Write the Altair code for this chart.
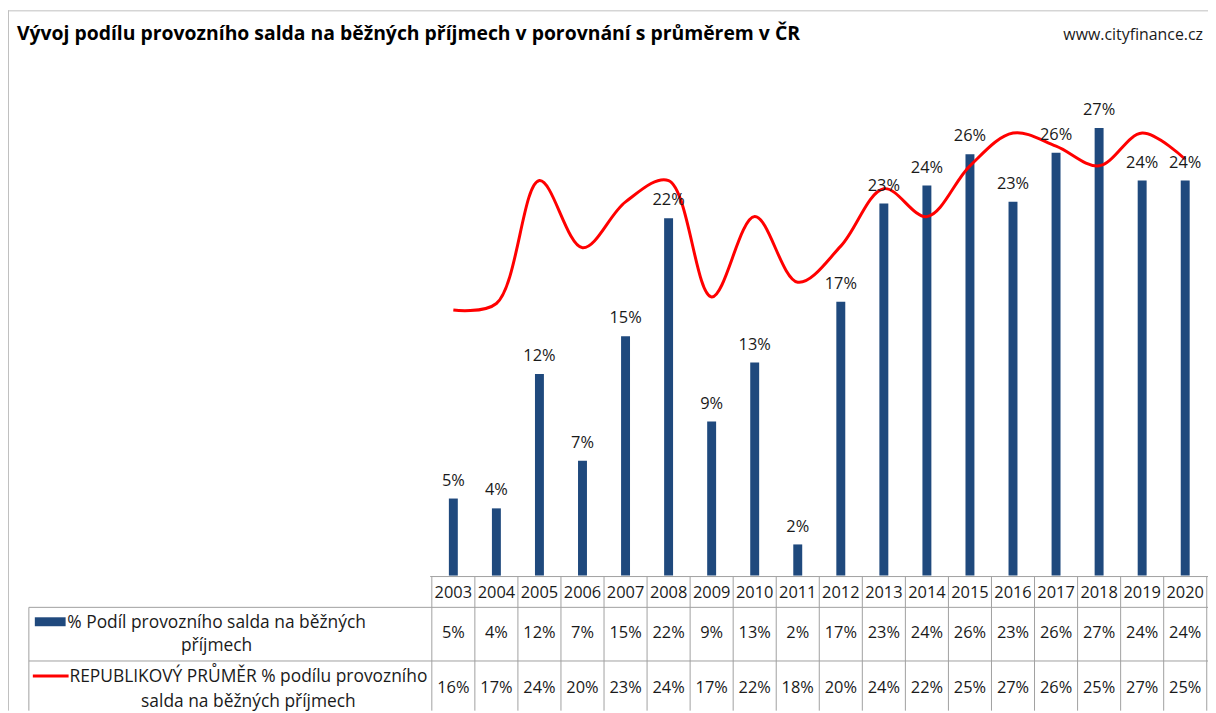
import altair as alt
import pandas as pd

title_text = "Vývoj podílu provozního salda na běžných příjmech v porovnání s průměrem v ČR"
source_text = "www.cityfinance.cz"
series_bar = "% Podíl provozního salda na běžných\npříjmech"
series_line = "REPUBLIKOVÝ PRŮMĚR % podílu provozního\nsalda na běžných příjmech"

years = list(range(2003, 2021))
podil = [0.047, 0.041, 0.123, 0.070, 0.146, 0.218, 0.094, 0.130, 0.019,
         0.167, 0.227, 0.238, 0.257, 0.228, 0.258, 0.273, 0.241, 0.241]
prumer = [0.162, 0.166, 0.241, 0.200, 0.228, 0.241, 0.170, 0.219, 0.179,
          0.201, 0.236, 0.219, 0.250, 0.270, 0.262, 0.250, 0.270, 0.254]

df = pd.DataFrame({"year": years, "podil": podil, "prumer": prumer})

W, H = 1208, 705
FONT = "Open Sans"
GRID = "#A0A0A0"
BLUE = "#1F497D"
RED = "#FF0000"
TXT = "#1A1A1A"

xs = alt.Scale(domain=[1992.771, 2020.414], nice=False, zero=False)
ys = alt.Scale(domain=[-0.08242, 0.34485], nice=False, zero=False)
X = alt.X("year:Q", scale=xs, axis=None)

base = alt.Chart(df)

bars = base.mark_bar(size=9, color=BLUE).encode(
    x=X, y=alt.Y("podil:Q", scale=ys, axis=None), y2=alt.datum(0)
)
bar_labels = base.mark_text(font=FONT, fontSize=16.5, color=TXT, dy=-18, baseline="middle").encode(
    x=X, y=alt.Y("podil:Q", scale=ys, axis=None), text=alt.Text("podil:Q", format=".0%")
)
line = base.mark_line(color=RED, strokeWidth=3, interpolate="catmull-rom").encode(
    x=X, y=alt.Y("prumer:Q", scale=ys, axis=None)
)

# table: header years and values
hdr = base.mark_text(font=FONT, fontSize=16.5, color=TXT, baseline="middle").encode(
    x=X, y=alt.value(587), text="year:N"
)
row1 = base.mark_text(font=FONT, fontSize=16.5, color=TXT, baseline="middle").encode(
    x=X, y=alt.value(627), text=alt.Text("podil:Q", format=".0%")
)
row2 = base.mark_text(font=FONT, fontSize=16.5, color=TXT, baseline="middle").encode(
    x=X, y=alt.value(682), text=alt.Text("prumer:Q", format=".0%")
)

# column separators (left border of each year column, plus right border of last)
vsep = base.transform_calculate(edge="datum.year - 0.5").mark_rule(color=GRID, strokeWidth=1).encode(
    x=alt.X("edge:Q", scale=xs, axis=None), y=alt.value(570), y2=alt.value(H)
)
vsep_last = base.transform_filter("datum.year == 2020").transform_calculate(edge="datum.year + 0.5").mark_rule(
    color=GRID, strokeWidth=1).encode(
    x=alt.X("edge:Q", scale=xs, axis=None), y=alt.value(570), y2=alt.value(H)
)

one = alt.Chart(pd.DataFrame({"k": [0]}))
h0 = one.mark_rule(color=GRID, strokeWidth=1).encode(x=alt.value(425), x2=alt.value(W), y=alt.value(570))
h1 = one.mark_rule(color=GRID, strokeWidth=1).encode(x=alt.value(21), x2=alt.value(W), y=alt.value(601))
h2 = one.mark_rule(color=GRID, strokeWidth=1).encode(x=alt.value(21), x2=alt.value(W), y=alt.value(655))
vleft = one.mark_rule(color=GRID, strokeWidth=1).encode(x=alt.value(21), y=alt.value(601), y2=alt.value(H))
frame_l = one.mark_rule(color="#BFBFBF", strokeWidth=1).encode(x=alt.value(0.5), y=alt.value(0), y2=alt.value(H))
frame_t = one.mark_rule(color="#BFBFBF", strokeWidth=1).encode(x=alt.value(0), x2=alt.value(W), y=alt.value(0.5))

sw_bar = one.mark_rect(color=BLUE).encode(
    x=alt.value(27), x2=alt.value(58), y=alt.value(611), y2=alt.value(620)
)
sw_line = one.mark_rule(color=RED, strokeWidth=3).encode(
    x=alt.value(25), x2=alt.value(61), y=alt.value(670)
)

leg_df = pd.DataFrame({"s1": [series_bar], "s2": [series_line], "t": [title_text], "u": [source_text]})
leg = alt.Chart(leg_df)
leg1 = leg.mark_text(font=FONT, fontSize=17.5, color=TXT, align="center", baseline="middle",
                     lineBreak="\n", lineHeight=23).encode(
    x=alt.value(210), y=alt.value(617), text="s1:N")
leg2 = leg.mark_text(font=FONT, fontSize=17.5, color=TXT, align="center", baseline="middle",
                     lineBreak="\n", lineHeight=25).encode(
    x=alt.value(242), y=alt.value(671), text="s2:N")

title = leg.mark_text(font=FONT, fontSize=19.5, fontWeight="bold", color="#000000", align="left",
                      baseline="middle").encode(x=alt.value(9), y=alt.value(24), text="t:N")
url = leg.mark_text(font=FONT, fontSize=16, color=TXT, align="right",
                    baseline="middle").encode(x=alt.value(1203), y=alt.value(25), text="u:N")

chart = alt.layer(
    frame_l, frame_t,
    bars, line, bar_labels,
    vsep, vsep_last, h0, h1, h2, vleft,
    hdr, row1, row2,
    sw_bar, sw_line, leg1, leg2,
    title, url,
).properties(
    width=W, height=H, padding=0,
    autosize=alt.AutoSizeParams(type="none"),
    background="white",
).configure_view(stroke=None)

chart.save("out.html", embed_options={"renderer": "svg", "actions": False})
